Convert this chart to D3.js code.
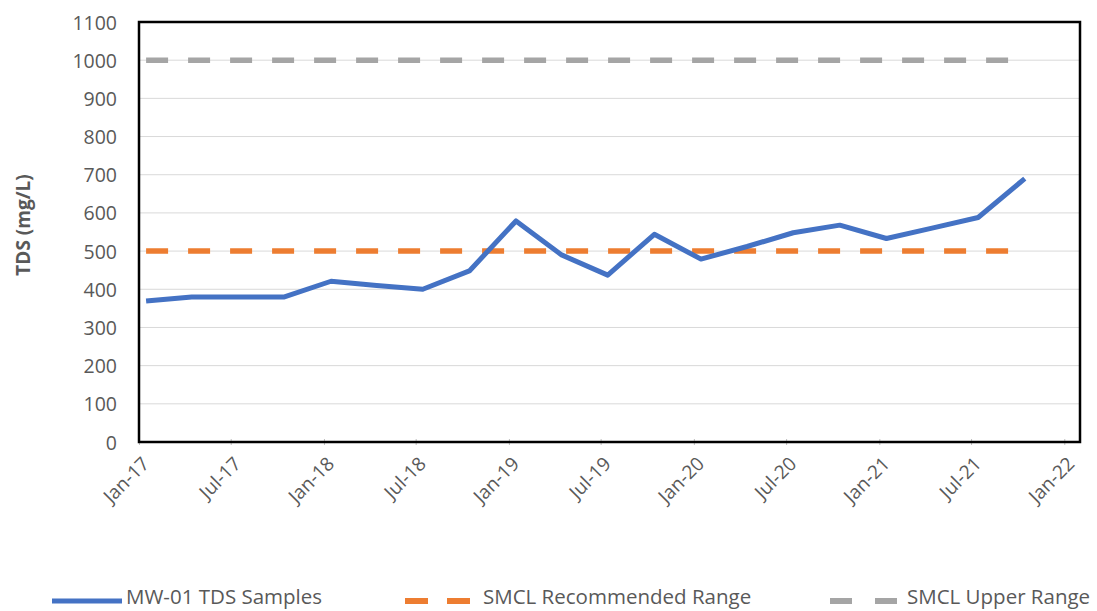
<!DOCTYPE html>
<html>
<head>
<meta charset="utf-8">
<script src="https://cdn.jsdelivr.net/npm/d3@7"></script>
<style>
  html, body { margin: 0; padding: 0; background: #ffffff; }
  svg { display: block; }
  text { font-family: "Open Sans", "Noto Sans", sans-serif; fill: #595959; }
</style>
</head>
<body>
<svg id="chart" width="1097" height="611"></svg>
<script>
// ---- data ----
const sampleDates = [
  "2017-01-15", "2017-04-15", "2017-07-15", "2017-10-15",
  "2018-01-15", "2018-04-15", "2018-07-15", "2018-10-15",
  "2019-01-15", "2019-04-15", "2019-07-15", "2019-10-15",
  "2020-01-15", "2020-04-15", "2020-07-15", "2020-10-15",
  "2021-01-15", "2021-04-15", "2021-07-15", "2021-10-15"
];
const tdsSamples = [
  369, 380, 380, 380,
  421, 410, 400, 448,
  579, 490, 437, 544,
  479, 512, 548, 568,
  533, 560, 588, 690
];
const smclRecommended = [
  500, 500, 500, 500, 500, 500, 500, 500, 500, 500,
  500, 500, 500, 500, 500, 500, 500, 500, 500, 500
];
const smclUpper = [
  1000, 1000, 1000, 1000, 1000, 1000, 1000, 1000, 1000, 1000,
  1000, 1000, 1000, 1000, 1000, 1000, 1000, 1000, 1000, 1000
];
const xTickDates = ["2017-01-01", "2017-07-01", "2018-01-01", "2018-07-01", "2019-01-01", "2019-07-01",
                    "2020-01-01", "2020-07-01", "2021-01-01", "2021-07-01", "2022-01-01"];
const xTickLabels = ["Jan-17", "Jul-17", "Jan-18", "Jul-18", "Jan-19", "Jul-19",
                     "Jan-20", "Jul-20", "Jan-21", "Jul-21", "Jan-22"];
const yTicks = [0, 100, 200, 300, 400, 500, 600, 700, 800, 900, 1000, 1100];
const seriesNames = ["MW-01 TDS Samples", "SMCL Recommended Range", "SMCL Upper Range"];
const seriesColors = ["#4472C4", "#ED7D31", "#A5A5A5"];
const yTitle = "TDS (mg/L)";
const xDomain = ["2017-01-01", "2022-02-01"];

// ---- layout ----
const parse = d3.utcParse("%Y-%m-%d");
const svg = d3.select("#chart");
const plot = { left: 139, right: 1080, top: 22, bottom: 442 };

const x = d3.scaleUtc().domain(xDomain.map(parse)).range([plot.left, plot.right]);
const y = d3.scaleLinear().domain([0, 1100]).range([plot.bottom, plot.top]);

// gridlines
svg.append("g")
  .selectAll("line")
  .data(yTicks.filter(t => t > 0))
  .join("line")
  .attr("x1", plot.left).attr("x2", plot.right)
  .attr("y1", d => y(d)).attr("y2", d => y(d))
  .attr("stroke", "#D9D9D9").attr("stroke-width", 1);

// y axis labels
const yAxis = d3.axisLeft(y).tickValues(yTicks).tickSize(0).tickPadding(0).tickFormat(d3.format("d"));
const yg = svg.append("g").attr("transform", `translate(${plot.left - 22},0)`).call(yAxis);
yg.select(".domain").remove();
yg.selectAll("text").style("font-size", "19.5px").attr("fill", "#595959").attr("dy", "0.36em");

// x axis ticks and labels
const xAxis = d3.axisBottom(x).tickValues(xTickDates.map(parse)).tickSize(0)
  .tickFormat((d, i) => xTickLabels[i]);
const xg = svg.append("g").attr("transform", `translate(0,${plot.bottom})`).call(xAxis);
xg.select(".domain").remove();
xg.selectAll(".tick line").remove();
xg.selectAll(".tick").append("line")
  .attr("y1", -3).attr("y2", 3).attr("stroke", "#BFBFBF").attr("stroke-width", 1);
xg.selectAll("text")
  .style("font-size", "19px")
  .attr("text-anchor", "end")
  .attr("x", 0).attr("y", 0).attr("dy", 0)
  .attr("transform", "translate(11,23) rotate(-45)");

// series lines
const line = d3.line()
  .x((d, i) => x(parse(sampleDates[i])))
  .y(d => y(d));

svg.append("path").datum(smclUpper)
  .attr("d", line).attr("fill", "none")
  .attr("stroke", seriesColors[2]).attr("stroke-width", 5.5)
  .attr("stroke-dasharray", "22,20");

svg.append("path").datum(smclRecommended)
  .attr("d", line).attr("fill", "none")
  .attr("stroke", seriesColors[1]).attr("stroke-width", 5.5)
  .attr("stroke-dasharray", "22,20");

svg.append("path").datum(tdsSamples)
  .attr("d", line).attr("fill", "none")
  .attr("stroke", seriesColors[0]).attr("stroke-width", 5)
  .attr("stroke-linejoin", "round");

// plot border
svg.append("rect")
  .attr("x", plot.left).attr("y", plot.top)
  .attr("width", plot.right - plot.left).attr("height", plot.bottom - plot.top)
  .attr("fill", "none").attr("stroke", "#000000").attr("stroke-width", 2.5);

// y title
svg.append("text")
  .attr("transform", `translate(30,225) rotate(-90)`)
  .attr("text-anchor", "middle")
  .style("font-size", "19px").style("font-weight", "bold")
  .attr("fill", "#595959")
  .text(yTitle);

// legend
const legendY = 601;
const legendItems = [
  { x1: 52, x2: 122, dash: null, tx: 126 },
  { x1: 405, x2: 472, dash: "23,19", tx: 483 },
  { x1: 830, x2: 897, dash: "22,23", tx: 907 }
];
const lg = svg.append("g");
legendItems.forEach((it, i) => {
  const l = lg.append("line")
    .attr("x1", it.x1).attr("x2", it.x2)
    .attr("y1", legendY).attr("y2", legendY)
    .attr("stroke", seriesColors[i]).attr("stroke-width", i === 0 ? 5 : 6);
  if (it.dash) l.attr("stroke-dasharray", it.dash);
  lg.append("text")
    .attr("x", it.tx).attr("y", 604)
    .style("font-size", "20.5px")
    .attr("fill", "#595959")
    .text(seriesNames[i]);
});
</script>
</body>
</html>
